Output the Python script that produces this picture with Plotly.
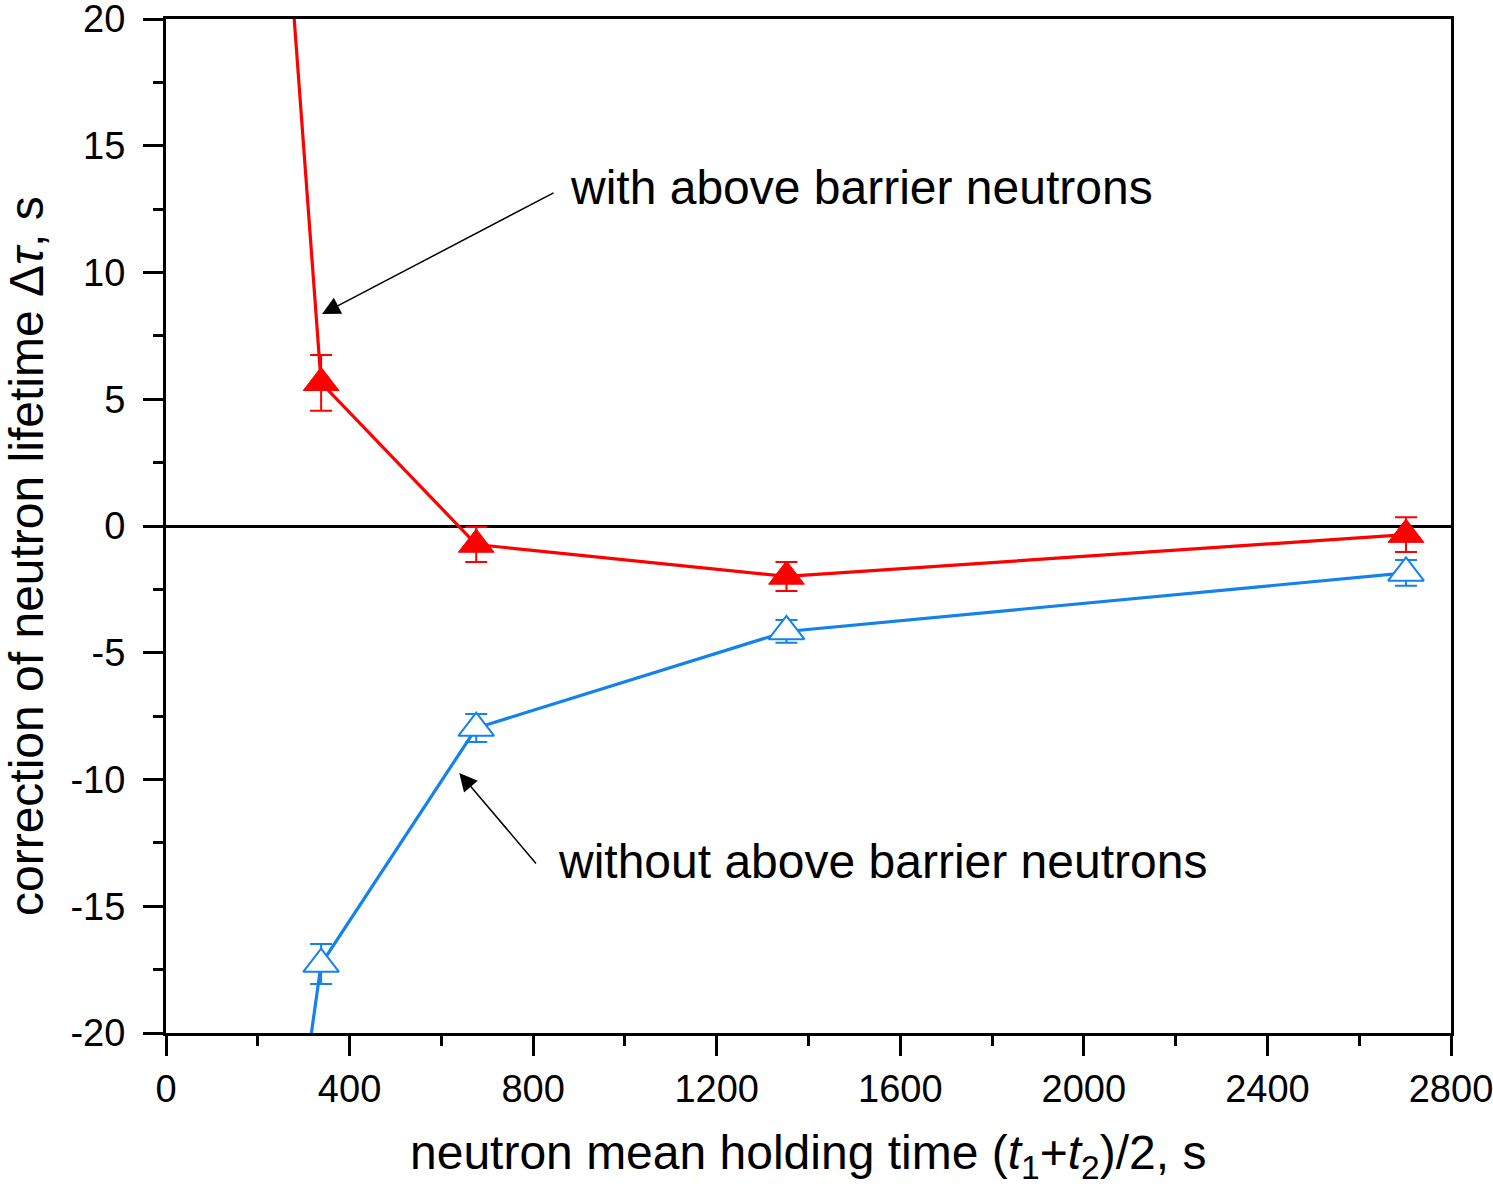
import plotly.graph_objects as go

# Mean holding time (t1+t2)/2, s
hold_time = [169, 338, 676, 1352, 2702]

# Lifetime correction with above-barrier neutrons included (first point lies off-scale)
corr_with = [47.0, 5.65, -0.73, -1.99, -0.34]
err_with = [0, 1.1, 0.69, 0.57, 0.69]

# Lifetime correction without above-barrier neutrons (first point lies off-scale)
corr_without = [-39.0, -17.28, -7.97, -4.16, -1.85]
err_without = [0, 0.79, 0.55, 0.45, 0.51]

x_ticks = [0, 400, 800, 1200, 1600, 2000, 2400, 2800]
y_ticks = [-20, -15, -10, -5, 0, 5, 10, 15, 20]

RED = "#FF0000"
BLUE = "#1482EB"
FONT = "Liberation Sans, Arial, sans-serif"

fig = go.Figure()

fig.add_trace(go.Scatter(
    x=hold_time, y=corr_without, mode="lines+markers",
    line=dict(color=BLUE, width=3.2),
    marker=dict(symbol="triangle-up", size=31, color="white",
                line=dict(color=BLUE, width=2)),
    error_y=dict(type="data", array=err_without, visible=True,
                 color=BLUE, thickness=2, width=11),
    cliponaxis=True, showlegend=False,
))

fig.add_trace(go.Scatter(
    x=hold_time, y=corr_with, mode="lines+markers",
    line=dict(color=RED, width=3.2),
    marker=dict(symbol="triangle-up", size=31, color=RED,
                line=dict(color=RED, width=1)),
    error_y=dict(type="data", array=err_with, visible=True,
                 color=RED, thickness=2, width=11),
    cliponaxis=True, showlegend=False,
))

axis_common = dict(
    showline=True, linecolor="black", linewidth=3, mirror=True,
    ticks="outside", tickcolor="black", tickwidth=3, ticklen=20,
    showgrid=False, automargin=False, ticklabeloverflow="allow",
    tickfont=dict(family=FONT, size=38, color="black"),
)

fig.update_xaxes(
    range=[0, 2800], tickvals=x_ticks, ticktext=[str(v) for v in x_ticks],
    zeroline=False,
    minor=dict(dtick=200, ticks="outside", ticklen=10, tickwidth=3, tickcolor="black"),
    ticklabelstandoff=0,
    **axis_common,
)

fig.update_yaxes(
    range=[-20, 20], tickvals=y_ticks, ticktext=[str(v) for v in y_ticks],
    zeroline=True, zerolinecolor="black", zerolinewidth=3,
    minor=dict(dtick=2.5, ticks="outside", ticklen=10, tickwidth=3, tickcolor="black"),
    ticklabelstandoff=10,
    **axis_common,
)

title_font = dict(family=FONT, size=48, color="black")

# Axis titles
fig.add_annotation(x=0.4996, y=(1033 - 1156) / 1014, xref="paper", yref="paper",
                   text="neutron mean holding time (<i>t</i><sub>1</sub>+<i>t</i><sub>2</sub>)/2, s",
                   showarrow=False, xanchor="center", yanchor="middle", font=title_font)
fig.add_annotation(x=(27 - 166) / 1285, y=(1033 - 556) / 1014, xref="paper", yref="paper",
                   text="correction of neutron lifetime Δ<i>τ</i>, s", textangle=-90,
                   showarrow=False, xanchor="center", yanchor="middle", font=title_font)

annot_font = dict(family=FONT, size=48, color="black")
fig.add_annotation(x=877, y=13.37, xref="x", yref="y", text="with above barrier neutrons",
                   showarrow=False, xanchor="left", yanchor="middle", font=annot_font)
fig.add_annotation(x=850, y=-13.25, xref="x", yref="y", text="without above barrier neutrons",
                   showarrow=False, xanchor="left", yanchor="middle", font=annot_font)

# Pointer arrows from the labels to the curves
fig.add_annotation(x=340, y=8.36, xref="x", yref="y", text="", showarrow=True,
                   ax=233, ay=-122, arrowhead=2, arrowsize=2.4, arrowwidth=1.5,
                   arrowcolor="black")
fig.add_annotation(x=639, y=-9.74, xref="x", yref="y", text="", showarrow=True,
                   ax=78, ay=92, arrowhead=2, arrowsize=2.4, arrowwidth=1.5,
                   arrowcolor="black")

fig.update_layout(
    width=1493, height=1191,
    margin=dict(l=166, r=42, t=19, b=158),
    plot_bgcolor="white", paper_bgcolor="white",
    font=dict(family=FONT, color="black"),
)

fig.write_html("out.html")
